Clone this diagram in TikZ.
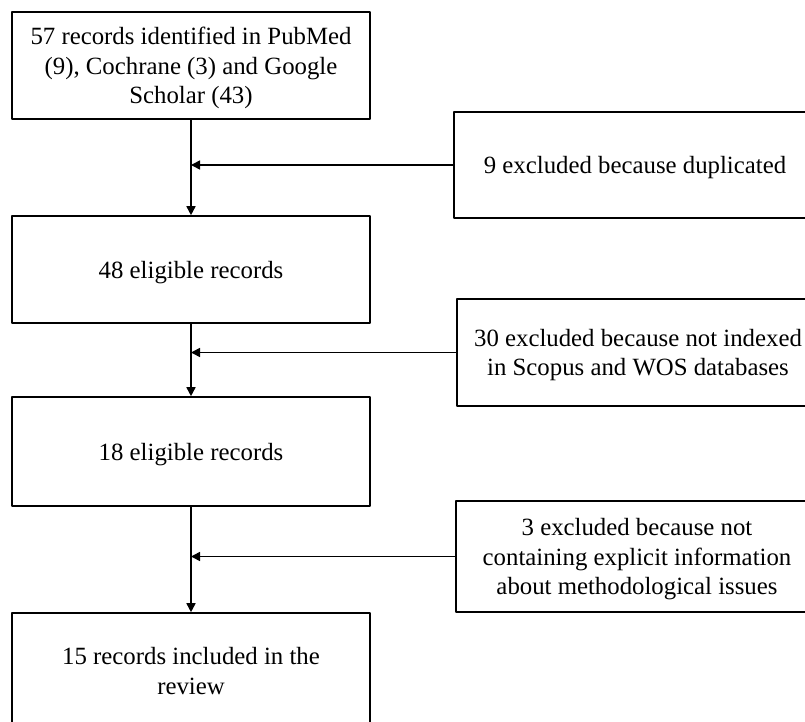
\documentclass[tikz,border=0pt]{standalone}
\usepackage{fontspec}
\setmainfont{Liberation Serif}
\usetikzlibrary{arrows.meta,calc,positioning}
\tikzset{
  recbox/.style={rectangle, draw, line width=1.6pt, minimum width=358pt, minimum height=107pt, align=center, inner sep=2pt, text depth=0pt},
  exbox/.style={rectangle, draw, line width=1.6pt, minimum width=362pt, align=center, inner sep=2pt, text depth=0pt},
  flow/.style={line width=1.6pt, -{Triangle[length=9pt,width=9pt]}},
  every picture/.style={line cap=round, line join=round}
}

\begin{document}
\begin{tikzpicture}[x=1pt,y=-1pt,font=\fontsize{24.8}{29.5}\selectfont]
  \useasboundingbox (0,0) rectangle (805,722);
  \clip (0,0) rectangle (805,722);

  % main column
  \node[recbox] (b1) at (191,65.5) {57 records identified in PubMed\\(9), Cochrane (3) and Google\\Scholar (43)};
  \node[recbox] (b2) at (191,269.5) {48 eligible records};
  \node[recbox, minimum height=109pt] (b3) at (191,451.5) {18 eligible records};
  \node[recbox, minimum height=116pt] (b4) at (191,671) {15 records included in the\\review};

  % exclusions
  \node[exbox, minimum height=106pt] (x1) at (635,165) {9 excluded because duplicated};
  \node[exbox, minimum height=107pt] (x2) at (638,352.5) {30 excluded because not indexed\\in Scopus and WOS databases};
  \node[exbox, minimum height=111pt] (x3) at (637,556.5) {3 excluded because not\\containing explicit information\\about methodological issues};

  \coordinate (j1) at (x1.west -| b1.south);
  \coordinate (j2) at (x2.west -| b2.south);
  \coordinate (j3) at (x3.west -| b3.south);

  \draw[flow] (b1) -- (b2);
  \draw[flow] (b2) -- (b3);
  \draw[flow] (b3) -- (b4);
  \draw[flow] (x1) -- (j1);
  \draw[flow] (x2) -- (j2);
  \draw[flow] (x3) -- (j3);
\end{tikzpicture}
\end{document}
